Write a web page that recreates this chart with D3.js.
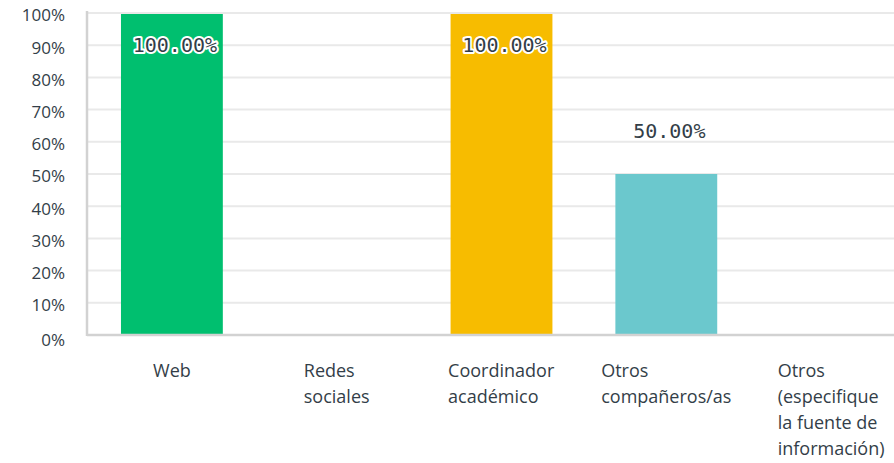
<!DOCTYPE html>
<html>
<head>
<meta charset="utf-8">
<script src="https://cdn.jsdelivr.net/npm/d3@7.9.0/dist/d3.min.js"></script>
<style>
  body { margin: 0; background: #fff; }
  svg { display: block; }
  text { fill: #333e48; }
</style>
</head>
<body>
<svg id="chart" width="894" height="463"></svg>
<script>
// data
const categories = [
  ['Web'],
  ['Redes', 'sociales'],
  ['Coordinador', 'académico'],
  ['Otros', 'compañeros/as'],
  ['Otros', '(especifique', 'la fuente de', 'información)']
];
const values = [1.0, 0, 1.0, 0.5, 0];
const barColors = ['#00bf6f', '#00bf6f', '#f7bc00', '#6bc8cd', '#6bc8cd'];
const yTicks = [0, 0.1, 0.2, 0.3, 0.4, 0.5, 0.6, 0.7, 0.8, 0.9, 1.0];

const svg = d3.select('#chart');
const plotLeft = 87, plotTop = 13, plotBottom = 335;

const x = d3.scaleBand()
  .domain(d3.range(categories.length))
  .range([89, 914])
  .paddingInner(0.382)
  .paddingOuter(0.194);

const y = d3.scaleLinear().domain([0, 1]).range([plotBottom, plotTop]);

// gridlines
svg.append('g')
  .selectAll('line')
  .data(yTicks.slice(1))
  .enter()
  .append('line')
  .attr('x1', plotLeft).attr('x2', 894)
  .attr('y1', d => y(d)).attr('y2', d => y(d))
  .attr('stroke', '#e9e9e9')
  .attr('stroke-width', 2);

// y labels
svg.append('g')
  .selectAll('text')
  .data(yTicks)
  .enter()
  .append('text')
  .attr('x', 65)
  .attr('y', d => y(d) + (d === 0 ? 5 : 2.5))
  .attr('dy', '0.35em')
  .attr('text-anchor', 'end')
  .style('font-family', 'Open Sans, sans-serif')
  .style('font-size', '17px')
  .text(d => d3.format('.0%')(d));

// bars
svg.append('g')
  .selectAll('rect')
  .data(values)
  .enter()
  .append('rect')
  .attr('x', (d, i) => x(i))
  .attr('width', x.bandwidth())
  .attr('y', d => y(d) + (d === 1 ? 1 : 0))
  .attr('height', d => plotBottom - y(d) - (d === 1 ? 1 : 0))
  .attr('fill', (d, i) => barColors[i]);

// axis lines
svg.append('line')
  .attr('x1', plotLeft).attr('x2', plotLeft)
  .attr('y1', plotTop - 2).attr('y2', plotBottom + 1)
  .attr('stroke', '#d2d2d2').attr('stroke-width', 2.5);
svg.append('line')
  .attr('x1', plotLeft).attr('x2', 894)
  .attr('y1', plotBottom).attr('y2', plotBottom)
  .attr('stroke', '#d2d2d2').attr('stroke-width', 2.5);

// value labels
const shown = values.map((v, i) => ({ v, i })).filter(d => d.v > 0);
const labels = svg.append('g')
  .selectAll('text')
  .data(shown)
  .enter()
  .append('text')
  .attr('x', d => x(d.i) + x.bandwidth() / 2 + 3)
  .attr('y', d => d.v > 0.8 ? y(d.v) + 39 : y(d.v) - 36)
  .attr('text-anchor', 'middle')
  .style('font-family', 'DejaVu Sans Mono, monospace')
  .style('font-size', '20px')
  .text(d => d3.format('.2%')(d.v));
labels.filter(d => d.v > 0.8)
  .style('stroke', '#fff')
  .style('stroke-width', '4px')
  .style('paint-order', 'stroke')
  .style('stroke-linejoin', 'round');

// category labels
const cat = svg.append('g')
  .selectAll('text')
  .data(categories)
  .enter()
  .append('text')
  .attr('y', 377)
  .style('font-family', 'Open Sans, sans-serif')
  .style('font-size', '18px');

cat.selectAll('tspan')
  .data(d => d)
  .enter()
  .append('tspan')
  .attr('x', 0)
  .attr('dy', (d, j) => j === 0 ? 0 : 26)
  .text(d => d);

cat.each(function (d, i) {
  const w = this.getBBox().width;
  const cx = x(i) + x.bandwidth() / 2;
  d3.select(this).selectAll('tspan').attr('x', cx - w / 2);
});
</script>
</body>
</html>
